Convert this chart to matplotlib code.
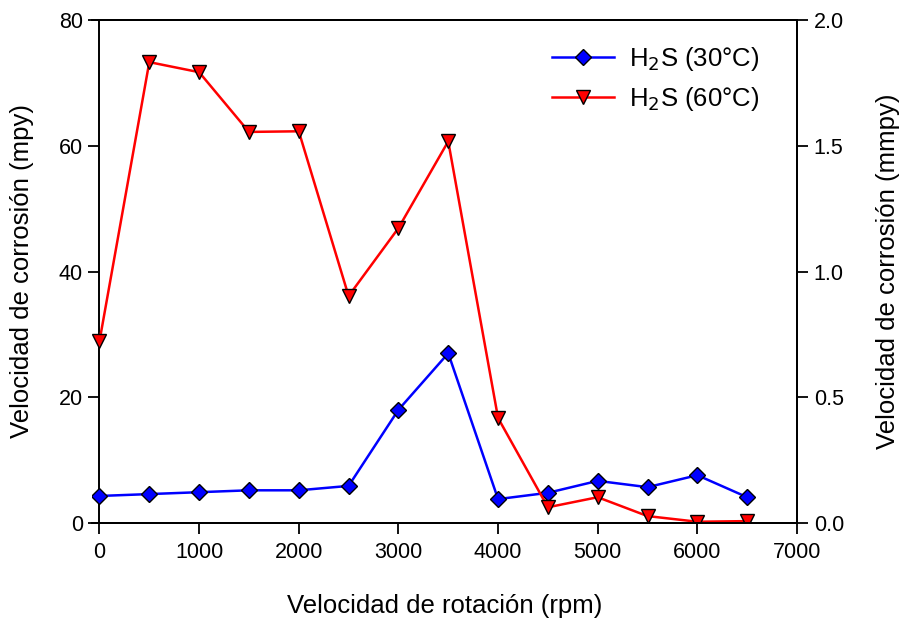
import matplotlib
matplotlib.use("Agg")
import matplotlib.pyplot as plt

plt.rcParams['font.family'] = ['Liberation Sans', 'DejaVu Sans']

rpm = [0, 500, 1000, 1500, 2000, 2500, 3000, 3500, 4000, 4500, 5000, 5500, 6000, 6500]
h2s_30 = [4.3, 4.6, 4.9, 5.2, 5.2, 5.9, 18.0, 27.0, 3.8, 4.8, 6.7, 5.7, 7.6, 4.1]
h2s_60 = [28.9, 73.3, 71.7, 62.2, 62.3, 36.1, 46.9, 60.7, 16.7, 2.5, 4.1, 1.1, 0.2, 0.3]

xticks = [0, 1000, 2000, 3000, 4000, 5000, 6000, 7000]
yticks_left = [0, 20, 40, 60, 80]
yticks_right = [0.0, 0.5, 1.0, 1.5, 2.0]

W, H = 901, 622
fig = plt.figure(figsize=(W/100, H/100), dpi=100)
ax = fig.add_axes([92/W, 1-523/H, (797-92)/W, (523-20)/H])

ax.plot(rpm, h2s_30, color='#0000ff', lw=1.8, marker='D', ms=8.5,
        mfc='#0000ff', mec='black', mew=1.0, label='H$_2$S (30°C)', zorder=3)
ax.plot(rpm, h2s_60, color='#ff0000', lw=1.8, marker='v', ms=10.5,
        mfc='#ff0000', mec='black', mew=1.0, label='H$_2$S (60°C)', zorder=3)

ax.set_xlim(-75, 7000)
ax.set_ylim(0, 80)
ax.spines['left'].set_position(('data', 0))
for s in ax.spines.values():
    s.set_linewidth(1.4)
ax.set_xticks(xticks)
ax.set_yticks(yticks_left)
ax.tick_params(direction='out', length=8, width=1.3, labelsize=15.5)
ax.tick_params(axis='x', pad=6)
ax.tick_params(axis='y', pad=4)

ax.set_xlabel('Velocidad de rotación (rpm)', fontsize=18.5, labelpad=22)
ax.set_ylabel('Velocidad de corrosión (mpy)', fontsize=18.5, labelpad=18)

ax2 = ax.twinx()
ax2.set_ylim(0, 2.0)
ax2.set_yticks(yticks_right)
ax2.set_yticklabels([f'{v:.1f}' for v in yticks_right])
ax2.tick_params(direction='out', length=8, width=1.3, labelsize=15.5, pad=4)
for s in ax2.spines.values():
    s.set_linewidth(1.4)
ax2.spines['left'].set_visible(False)
ax2.set_ylabel('Velocidad de corrosión (mmpy)', fontsize=18.5, labelpad=23)

leg = ax.legend(loc='upper left', bbox_to_anchor=(529/W, 1-22/H),
                bbox_transform=fig.transFigure, frameon=False,
                fontsize=18.5, handlelength=2.4, labelspacing=0.45,
                handletextpad=0.6, borderpad=0.4)

fig.savefig('out.png', dpi=100)
